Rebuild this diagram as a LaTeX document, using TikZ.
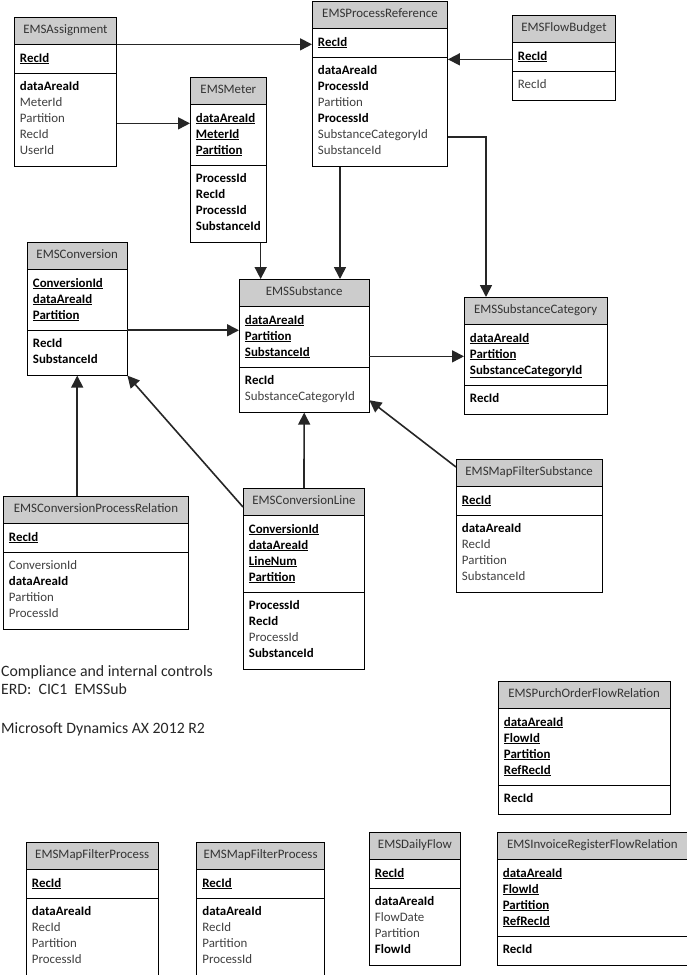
\documentclass[tikz,border=0pt]{standalone}
\usepackage{fontspec}
\setmainfont{Carlito}
\usetikzlibrary{positioning}
\usetikzlibrary{shapes.multipart}
\usetikzlibrary{arrows.meta}

\newcommand{\hd}[1]{\textcolor{black!80}{#1}\rule[-4pt]{0pt}{14pt}}
\newcommand{\pk}[1]{\textbf{\underline{#1}}\strut}
\newcommand{\bfld}[1]{\textbf{#1}\strut}
\newcommand{\fld}[1]{\textcolor{black!75}{#1}\strut}

\begin{document}
\begin{tikzpicture}[x=1pt, y=-1pt,
tablenode/.style={rectangle split, rectangle split parts=3, draw=black, line width=0.9pt,
  rectangle split part fill={black!20,white,white}, rectangle split part align={center,left,left},
  align=left, anchor=north west, inner xsep=5.5pt, inner ysep=6pt,
  font=\fontsize{12.9}{16}\selectfont},
link/.style={draw=black!85, line width=1.6pt, -{Triangle[length=12pt,width=12pt]}},
notenode/.style={align=left, anchor=north west, inner sep=0pt, text=black!85,
  font=\fontsize{15.8}{18.3}\selectfont},
]
\useasboundingbox (0,0) rectangle (687,975);

%Nodes
\node[tablenode, minimum width=102pt] (assign) at (14,17) {\hd{EMSAssignment}
  \nodepart{two}\pk{RecId}
  \nodepart{three}\bfld{dataAreaId}\\ \fld{MeterId}\\ \fld{Partition}\\ \fld{RecId}\\ \fld{UserId}};
\node[tablenode, minimum width=72pt] (meter) at (190,77) {\hd{EMSMeter}
  \nodepart{two}\pk{dataAreaId}\\ \pk{MeterId}\\ \pk{Partition}
  \nodepart{three}\bfld{ProcessId}\\ \bfld{RecId}\\ \bfld{ProcessId}\\ \bfld{SubstanceId}};
\node[tablenode, minimum width=135pt] (procref) at (312,1) {\hd{EMSProcessReference}
  \nodepart{two}\pk{RecId}
  \nodepart{three}\bfld{dataAreaId}\\ \bfld{ProcessId}\\ \fld{Partition}\\ \bfld{ProcessId}\\ \fld{SubstanceCategoryId}\\ \fld{SubstanceId}};
\node[tablenode, minimum width=103pt] (flowbud) at (512,15) {\hd{EMSFlowBudget}
  \nodepart{two}\pk{RecId}
  \nodepart{three}\fld{RecId}};
\node[tablenode, minimum width=99.5pt] (conv) at (27,242) {\hd{EMSConversion}
  \nodepart{two}\pk{ConversionId}\\ \pk{dataAreaId}\\ \pk{Partition}
  \nodepart{three}\bfld{RecId}\\ \bfld{SubstanceId}};
\node[tablenode, minimum width=129.5pt] (subst) at (239,279) {\hd{EMSSubstance}
  \nodepart{two}\pk{dataAreaId}\\ \pk{Partition}\\ \pk{SubstanceId}
  \nodepart{three}\bfld{RecId}\\ \fld{SubstanceCategoryId}};
\node[tablenode, minimum width=142.5pt] (substcat) at (464,297) {\hd{EMSSubstanceCategory}
  \nodepart{two}\pk{dataAreaId}\\ \pk{Partition}\\ \pk{SubstanceCategoryId}
  \nodepart{three}\bfld{RecId}};
\node[tablenode, minimum width=185pt] (cpr) at (3,496) {\hd{EMSConversionProcessRelation}
  \nodepart{two}\pk{RecId}
  \nodepart{three}\fld{ConversionId}\\ \bfld{dataAreaId}\\ \fld{Partition}\\ \fld{ProcessId}};
\node[tablenode, minimum width=121pt] (convline) at (243,488) {\hd{EMSConversionLine}
  \nodepart{two}\pk{ConversionId}\\ \pk{dataAreaId}\\ \pk{LineNum}\\ \pk{Partition}
  \nodepart{three}\bfld{ProcessId}\\ \bfld{RecId}\\ \fld{ProcessId}\\ \bfld{SubstanceId}};
\node[tablenode, minimum width=145.5pt] (mapsubst) at (456,459) {\hd{EMSMapFilterSubstance}
  \nodepart{two}\pk{RecId}
  \nodepart{three}\bfld{dataAreaId}\\ \fld{RecId}\\ \fld{Partition}\\ \fld{SubstanceId}};
\node[tablenode, minimum width=171.5pt] (purch) at (498,681) {\hd{EMSPurchOrderFlowRelation}
  \nodepart{two}\pk{dataAreaId}\\ \pk{FlowId}\\ \pk{Partition}\\ \pk{RefRecId}
  \nodepart{three}\bfld{RecId}};
\node[tablenode, minimum width=91pt] (daily) at (369,832) {\hd{EMSDailyFlow}
  \nodepart{two}\pk{RecId}
  \nodepart{three}\bfld{dataAreaId}\\ \fld{FlowDate}\\ \fld{Partition}\\ \bfld{FlowId}};
\node[tablenode, minimum width=190pt] (invoice) [right=36pt of daily] {\hd{EMSInvoiceRegisterFlowRelation}
  \nodepart{two}\pk{dataAreaId}\\ \pk{FlowId}\\ \pk{Partition}\\ \pk{RefRecId}
  \nodepart{three}\bfld{RecId}};
\node[tablenode, minimum width=131.5pt] (mapproc1) at (26,842) {\hd{EMSMapFilterProcess}
  \nodepart{two}\pk{RecId}
  \nodepart{three}\bfld{dataAreaId}\\ \fld{RecId}\\ \fld{Partition}\\ \fld{ProcessId}};
\node[tablenode, minimum width=127.5pt] (mapproc2) [right=38pt of mapproc1] {\hd{EMSMapFilterProcess}
  \nodepart{two}\pk{RecId}
  \nodepart{three}\bfld{dataAreaId}\\ \fld{RecId}\\ \fld{Partition}\\ \fld{ProcessId}};

\node[notenode] (note) at (1,665) {Compliance and internal controls\\ ERD:\ \ CIC1\ \ EMSSub\\[21pt] Microsoft Dynamics AX 2012 R2};

%Lines
\coordinate (meterin) at ([yshift=-19pt]meter.one split west);
\coordinate (budout) at ([yshift=-17pt]flowbud.one split west);
\coordinate (meterout) at ([xshift=-6pt]meter.south east);
\coordinate (prout) at ([xshift=28pt]procref.south west);
\coordinate (prcat) at ([yshift=-80pt]procref.two split east);
\coordinate (catin) at ([xshift=22pt]substcat.north west);
\coordinate (catkey) at ([yshift=-32pt]substcat.one split west);
\coordinate (lineout) at ([yshift=-19pt]convline.north west);
\coordinate (mapout) at ([yshift=-8pt]mapsubst.north west);
\coordinate (substcatid) at ([yshift=-33pt]subst.two split east);

\draw[link] (assign.one split east) -- (assign.one split east -| procref.west);
\draw[link] (assign.east |- meterin) -- (meterin);
\draw[link] (budout) -- (procref.east |- budout);
\draw[link] (meterout) -- (meterout |- subst.north);
\draw[link] (prout) -- (prout |- subst.north);
\draw[link] (prcat) -| (catin);
\draw[link] (conv.two split east) -- (subst.west |- conv.two split east);
\draw[link] (subst.east |- catkey) -- (catkey);
\draw[link] (cpr.north -| conv.south) -- (conv.south);
\draw[link] (lineout) -- (conv.south east);
\draw[link] (convline.north) -- (subst.south);
\draw[link] (mapout) -- (substcatid);
\end{tikzpicture}
\end{document}
